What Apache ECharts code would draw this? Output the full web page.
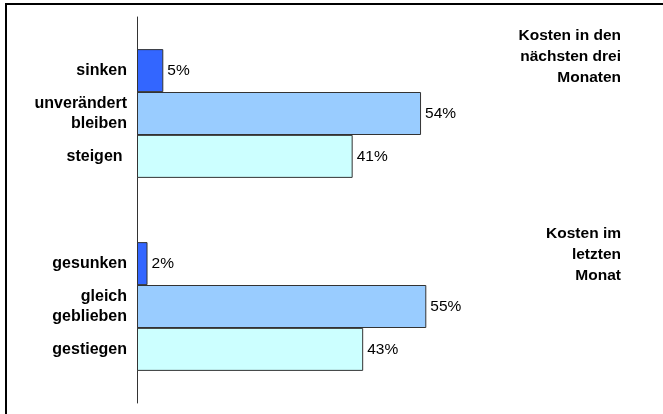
<!DOCTYPE html>
<html>
<head>
<meta charset="utf-8">
<script src="https://cdn.jsdelivr.net/npm/echarts@6/dist/echarts.min.js"></script>
<style>
  html, body { margin: 0; padding: 0; background: #fff; }
  #chart { width: 663px; height: 414px; }
</style>
</head>
<body>
<div id="chart"></div>
<script>
// Daten
const nextTitle = 'Kosten in den\nnächsten drei\nMonaten';
const nextCats = ['sinken', 'unverändert\nbleiben', 'steigen '];
const nextValues = [5, 54, 41];

const lastTitle = 'Kosten im\nletzten\nMonat';
const lastCats = ['gesunken', 'gleich\ngeblieben', 'gestiegen'];
const lastValues = [2, 55, 43];

const barColors = ['#3366ff', '#99ccff', '#ccffff'];

// Halbe Kategorien als Raster: jeder Balken belegt zwei Slots
const slotCount = 18;
const nextSlots = [2, 4, 6];
const lastSlots = [11, 13, 15];

const slotLabels = new Array(slotCount).fill('');
const slotData = new Array(slotCount).fill(null);
nextSlots.forEach((s, i) => {
  slotLabels[s] = nextCats[i];
  slotData[s] = { value: nextValues[i], itemStyle: { color: barColors[i] } };
});
lastSlots.forEach((s, i) => {
  slotLabels[s] = lastCats[i];
  slotData[s] = { value: lastValues[i], itemStyle: { color: barColors[i] } };
});

const font = 'Arial, "Liberation Sans", Helvetica, sans-serif';

const chart = echarts.init(document.getElementById('chart'));

// Gruppentitel rechts oben, rechtsbündig
const titleText = (text, y) => ({
  type: 'text',
  x: 621,
  y: y,
  silent: true,
  style: {
    text: text,
    align: 'right',
    verticalAlign: 'top',
    font: 'bold 15.5px ' + font,
    lineHeight: 21,
    fill: '#000'
  }
});

const option = {
  animation: false,
  backgroundColor: '#fff',
  grid: {
    left: 137,
    top: 17,
    width: 535,
    height: 386
  },
  xAxis: {
    type: 'value',
    min: 0,
    max: 100,
    show: false
  },
  yAxis: {
    type: 'category',
    inverse: true,
    data: slotLabels,
    axisLine: { show: true, lineStyle: { color: '#333', width: 1 } },
    axisTick: { show: false },
    axisLabel: {
      interval: 0,
      margin: 10,
      fontFamily: font,
      fontSize: 16,
      fontWeight: 'bold',
      color: '#000',
      lineHeight: 20
    }
  },
  series: [
    {
      type: 'bar',
      data: slotData,
      barWidth: 43,
      itemStyle: { borderColor: '#333', borderWidth: 1 },
      label: {
        show: true,
        position: 'right',
        distance: 4,
        formatter: '{c}%',
        fontFamily: font,
        fontSize: 15.5,
        color: '#000'
      }
    }
  ],
  graphic: [
    {
      type: 'rect',
      shape: { x: 6, y: 4, width: 700, height: 500 },
      style: { fill: 'none', stroke: '#000', lineWidth: 2 },
      silent: true
    },
    titleText(nextTitle, 25),
    titleText(lastTitle, 223)
  ]
};

chart.setOption(option);
</script>
</body>
</html>
